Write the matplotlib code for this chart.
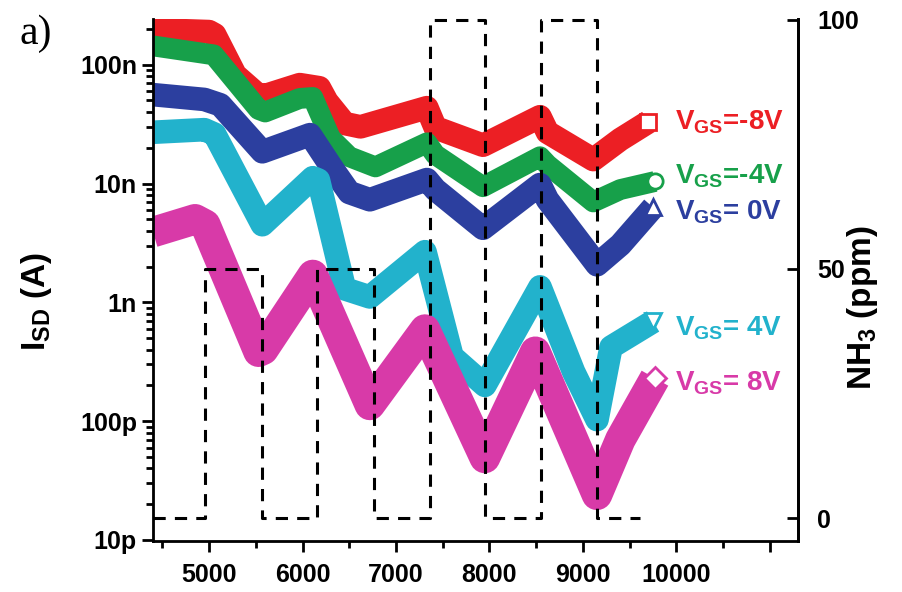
import matplotlib
matplotlib.use("Agg")
import matplotlib.pyplot as plt
from matplotlib.ticker import FixedLocator, LogLocator, NullFormatter

plt.rcParams["font.family"] = ["Liberation Sans", "DejaVu Sans"]
plt.rcParams["font.weight"] = "bold"
plt.rcParams["mathtext.fontset"] = "custom"
plt.rcParams["mathtext.rm"] = "Liberation Sans:bold"
plt.rcParams["mathtext.it"] = "Liberation Sans:bold"
plt.rcParams["mathtext.bf"] = "Liberation Sans:bold"

# time (s) and source-drain current (nA) for each gate voltage
t_m8 = [4400, 5000, 5060, 5280, 5520, 5600, 5970, 6180, 6260, 6450, 6620, 7330, 7420, 7930, 8540, 8620, 9110, 9400, 9700]
i_m8 = [197, 190, 179, 82, 56, 55, 68, 64, 49, 32, 30, 43.5, 29.5, 21, 36.5, 27, 15.9, 23.5, 33]

t_m4 = [4400, 4900, 5050, 5530, 5600, 5970, 6110, 6300, 6500, 6780, 7330, 7420, 7930, 8540, 8620, 9110, 9400, 9770]
i_m4 = [144, 126, 121, 42, 40, 52, 53, 24, 16.8, 13.8, 22, 17.5, 9.4, 16.8, 14.4, 7.0, 8.9, 10.4]

t_0 = [4400, 4950, 5120, 5570, 5970, 6080, 6330, 6500, 6720, 7330, 7420, 7930, 8540, 8620, 9150, 9400, 9750]
i_0 = [56, 51, 46, 18.5, 24, 25.8, 13, 8.4, 7.3, 10.8, 8.9, 4.2, 9.8, 7.3, 2.07, 3.05, 6.3]

t_p4 = [4400, 4950, 5060, 5570, 6110, 6170, 6450, 6720, 7310, 7600, 7950, 8540, 8900, 9150, 9300, 9750]
i_p4 = [27, 28.4, 26, 4.5, 11.2, 10.7, 1.3, 1.11, 2.67, 0.35, 0.20, 1.35, 0.26, 0.103, 0.42, 0.69]

t_p8 = [4400, 4850, 4960, 5530, 5580, 6110, 6720, 7310, 7950, 8490, 9150, 9400, 9770]
i_p8 = [3.9, 5.0, 4.5, 0.384, 0.40, 1.7, 0.137, 0.59, 0.049, 0.384, 0.024, 0.070, 0.23]

# NH3 pulses (step, value holds until next time)
nh3_t = [4400, 4960, 5570, 6160, 6760, 7360, 7950, 8550, 9150, 9610]
nh3_ppm = [0, 50, 0, 50, 0, 100, 0, 100, 0, 0]

labels = ["V$_{GS}$=-8V", "V$_{GS}$=-4V", "V$_{GS}$= 0V", "V$_{GS}$= 4V", "V$_{GS}$= 8V"]
label_y = [28.4, 10.0, 4.96, 0.53, 0.18]
colors = ["#ec1f24", "#17a04a", "#2c3f9f", "#22b2cc", "#d83aa8"]
markers = ["s", "o", "^", "v", "D"]
widths = [17, 15, 17, 17, 22]

series = [(t_m8, i_m8), (t_m4, i_m4), (t_0, i_0), (t_p4, i_p4), (t_p8, i_p8)]

fig = plt.figure(figsize=(9.03, 5.92), dpi=100)
ax = fig.add_axes([0.1694, 0.0861, 0.7143, 0.882])

for k, (t, cur) in enumerate(series):
    amps = [c * 1e-9 for c in cur]
    ax.plot(t, amps, color=colors[k], linewidth=widths[k],
            solid_joinstyle="round", solid_capstyle="butt", zorder=2)
    ax.plot(t[-1], amps[-1], marker=markers[k], markersize=11,
            markerfacecolor="white", markeredgecolor=colors[k],
            markeredgewidth=2, linestyle="none", zorder=3)
    ax.text(9980, label_y[k] * 1e-9, labels[k], color=colors[k],
            fontsize=20, fontweight="bold", va="baseline", ha="left")

ax.set_yscale("log")
ax.set_xlim(4400, 11300)
ax.set_ylim(0.98e-11, 2.43e-7)
ax.yaxis.set_major_locator(FixedLocator([1e-11, 1e-10, 1e-9, 1e-8, 1e-7]))
ax.set_yticklabels(["10p", "100p", "1n", "10n", "100n"])
ax.yaxis.set_minor_locator(LogLocator(base=10, subs=range(2, 10)))
ax.yaxis.set_minor_formatter(NullFormatter())
ax.set_xticks([5000, 6000, 7000, 8000, 9000, 10000, 11000])
ax.set_xticklabels(["5000", "6000", "7000", "8000", "9000", "10000", ""])
ax.set_xticks([4500, 5500, 6500, 7500, 8500, 9500, 10500], minor=True)

ax.tick_params(axis="both", which="major", direction="out", length=8, width=2, labelsize=18)
ax.tick_params(axis="both", which="minor", direction="out", length=5, width=2)
ax.tick_params(axis="x", which="major", pad=8)
ax.spines["top"].set_visible(False)
for s in ["left", "bottom", "right"]:
    ax.spines[s].set_linewidth(2)

ax2 = ax.twinx()
ax2.plot(nh3_t, nh3_ppm, drawstyle="steps-post", color="black",
         linewidth=2.2, dashes=(4, 3), clip_on=False)
ax2.set_ylim(-4.6, 100.2)
ax2.set_yticks([0, 50, 100])
ax2.tick_params(axis="y", direction="in", length=8, width=2, labelsize=18, pad=14)
ax2.spines["top"].set_visible(False)
ax2.spines["right"].set_linewidth(2)

fig.text(0.040, 0.49, "I$_{SD}$ (A)", rotation=90, fontsize=24, fontweight="bold",
         ha="center", va="center")
fig.text(0.955, 0.48, "NH$_3$ (ppm)", rotation=90, fontsize=24, fontweight="bold",
         ha="center", va="center")
fig.text(0.022, 0.925, "a)", fontsize=30, family="Liberation Serif",
         fontweight="normal", ha="left", va="baseline")

fig.savefig("out.png", dpi=100)
